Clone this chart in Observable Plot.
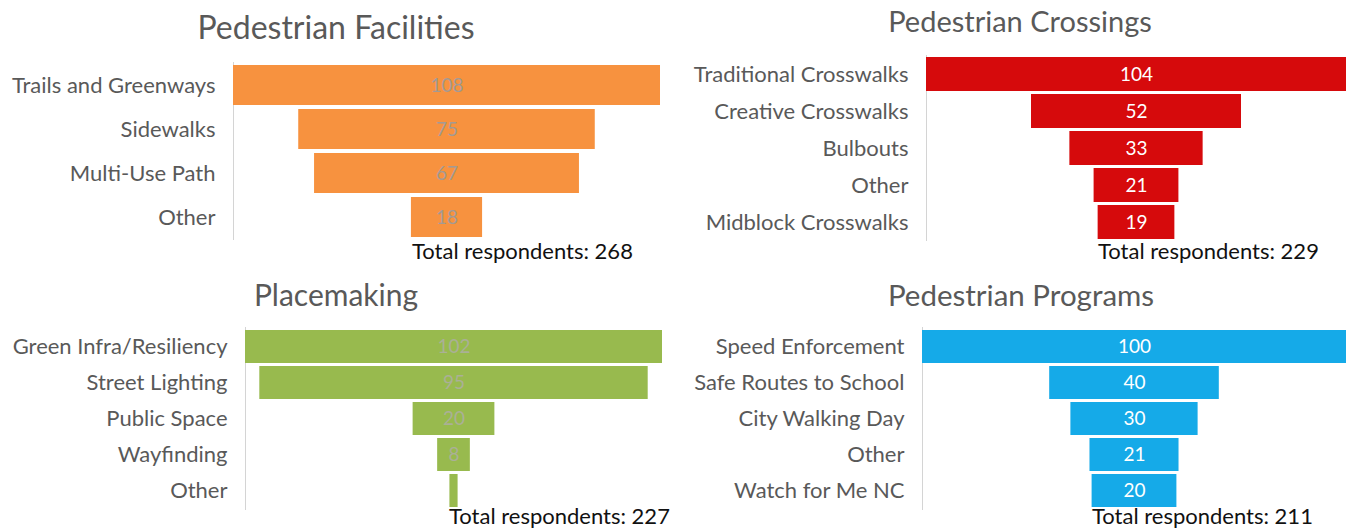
<!DOCTYPE html>
<html>
<head>
<meta charset="utf-8">
<script src="https://cdn.jsdelivr.net/npm/d3@7"></script>
<script src="https://cdn.jsdelivr.net/npm/@observablehq/plot@0.6"></script>
<style>
  body { margin: 0; background: #ffffff; font-family: Lato, "Open Sans", sans-serif; }
  #root { position: relative; width: 1352px; height: 531px; overflow: hidden; background: #fff; }
  .panel { position: absolute; }
  .title { position: absolute; color: #595959; white-space: nowrap; line-height: 1; transform: translateX(-50%); }
  .total { position: absolute; color: #111111; font-size: 22px; white-space: nowrap; line-height: 1; }
</style>
</head>
<body>
<div id="root"></div>
<script>
// ---------------- data ----------------
const facilitiesTitle = "Pedestrian Facilities";
const facilitiesCategories = ["Trails and Greenways", "Sidewalks", "Multi-Use Path", "Other"];
const facilitiesValues = [108, 75, 67, 18];
const facilitiesTotal = "Total respondents: 268";

const crossingsTitle = "Pedestrian Crossings";
const crossingsCategories = ["Traditional Crosswalks", "Creative Crosswalks", "Bulbouts", "Other", "Midblock Crosswalks"];
const crossingsValues = [104, 52, 33, 21, 19];
const crossingsTotal = "Total respondents: 229";

const placemakingTitle = "Placemaking";
const placemakingCategories = ["Green Infra/Resiliency", "Street Lighting", "Public Space", "Wayfinding", "Other"];
const placemakingValues = [102, 95, 20, 8, 2];
const placemakingTotal = "Total respondents: 227";

const programsTitle = "Pedestrian Programs";
const programsCategories = ["Speed Enforcement", "Safe Routes to School", "City Walking Day", "Other", "Watch for Me NC"];
const programsValues = [100, 40, 30, 21, 20];
const programsTotal = "Total respondents: 211";

// ---------------- layout / style ----------------
const panels = [
  { title: facilitiesTitle, cats: facilitiesCategories, vals: facilitiesValues, total: facilitiesTotal,
    left: 0, top: 0, width: 680, height: 265, mL: 233, mR: 20, mT: 62, mB: 25, pad: 0.1,
    fill: "#F7923F", textFill: "#a39a94",
    titleX: 336, titleTop: 11, titleSize: 32, totalX: 412, totalTop: 240 },
  { title: crossingsTitle, cats: crossingsCategories, vals: crossingsValues, total: crossingsTotal,
    left: 680, top: 0, width: 672, height: 265, mL: 246, mR: 6, mT: 55, mB: 24, pad: 0.07,
    fill: "#D60A0C", textFill: "#ffffff",
    titleX: 1020, titleTop: 6, titleSize: 29, totalX: 1098, totalTop: 240 },
  { title: placemakingTitle, cats: placemakingCategories, vals: placemakingValues, total: placemakingTotal,
    left: 0, top: 265, width: 680, height: 266, mL: 245, mR: 18, mT: 62, mB: 21, pad: 0.07,
    fill: "#98BA4E", textFill: "#aab096",
    titleX: 336, titleTop: 279, titleSize: 30, totalX: 449, totalTop: 505 },
  { title: programsTitle, cats: programsCategories, vals: programsValues, total: programsTotal,
    left: 680, top: 265, width: 672, height: 266, mL: 242, mR: 6, mT: 62, mB: 21, pad: 0.07,
    fill: "#15AAE8", textFill: "#ffffff",
    titleX: 1021, titleTop: 280, titleSize: 29.5, totalX: 1092, totalTop: 505 }
];

const root = document.getElementById("root");

for (const p of panels) {
  const data = p.cats.map((c, i) => ({ category: c, value: p.vals[i] }));
  const max = d3.max(p.vals);
  const chart = Plot.plot({
    width: p.width,
    height: p.height,
    marginLeft: p.mL,
    marginRight: p.mR,
    marginTop: p.mT,
    marginBottom: p.mB,
    style: { fontFamily: "Lato, 'Open Sans', sans-serif", color: "#595959", background: "transparent", overflow: "visible" },
    x: { domain: [-max / 2, max / 2], axis: null },
    y: { domain: p.cats, axis: null, paddingInner: p.pad, paddingOuter: p.pad / 2 },
    marks: [
      Plot.ruleX([-max / 2], { stroke: "#d4d4d4", strokeWidth: 1 }),
      Plot.barX(data, { x1: d => -d.value / 2, x2: d => d.value / 2, y: "category", fill: p.fill }),
      // labels only where the bar is wide enough to hold them
      Plot.text(data.filter(d => d.value / max > 0.05), { x: d => 0, y: "category", text: d => String(d.value), fill: p.textFill, fontSize: 19 }),
      Plot.axisY({ tickSize: 0, tickPadding: 18, fontSize: 22, fill: "#595959", label: null })
    ]
  });
  const wrap = document.createElement("div");
  wrap.className = "panel";
  wrap.style.left = p.left + "px";
  wrap.style.top = p.top + "px";
  wrap.appendChild(chart);
  root.appendChild(wrap);

  const t = document.createElement("div");
  t.className = "title";
  t.textContent = p.title;
  t.style.left = p.titleX + "px";
  t.style.top = p.titleTop + "px";
  t.style.fontSize = p.titleSize + "px";
  root.appendChild(t);

  const tot = document.createElement("div");
  tot.className = "total";
  tot.textContent = p.total;
  tot.style.left = p.totalX + "px";
  tot.style.top = p.totalTop + "px";
  root.appendChild(tot);
}
</script>
</body>
</html>
